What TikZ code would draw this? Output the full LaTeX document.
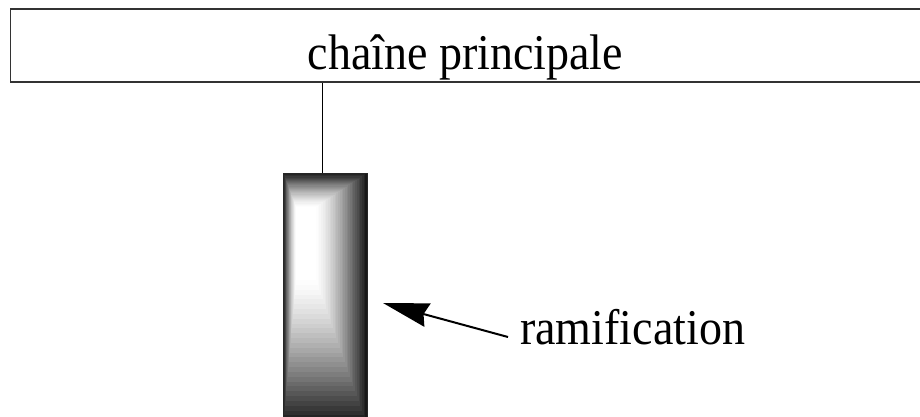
\documentclass[tikz,border=0pt]{standalone}
\usepackage{fontspec}
\setmainfont[FakeStretch=0.92]{Liberation Serif}
\usetikzlibrary{arrows.meta}
\tikzset{
  mainbox/.style={draw=black!80, line width=1.6pt, minimum width=910pt, minimum height=73pt, inner sep=0pt, text height=46.6pt, text depth=0pt, font=\fontsize{50}{60}\selectfont},
  barbox/.style={draw=black!85, line width=0.8pt, minimum width=83.5pt, minimum height=252pt, inner sep=0pt},
  lbl/.style={inner sep=0pt, font=\fontsize{50}{60}\selectfont},
  conn/.style={line width=1.2pt, black},
  pointer/.style={line width=2pt, -{Stealth[length=46pt,width=24pt,inset=4pt]}}
}
\begin{document}
\begin{tikzpicture}[x=1pt,y=-1pt]
\useasboundingbox (0,0) rectangle (920,416);
\begin{scope}
\clip (0,0) rectangle (920,416);
\foreach \i in {0,...,30}{
  \pgfmathsetmacro\t{\i/30}
  \pgfmathsetmacro\xa{283.5+\t*(296-283.5)}
  \pgfmathsetmacro\xb{367-\t*(367-316)}
  \pgfmathsetmacro\ya{173+\t*(207-173)}
  \pgfmathsetmacro\yb{425-\t*(425-280)}
  \pgfmathsetmacro\g{90*(1-\t)^1.4}
  \fill[black!\g] (\xa,\ya) rectangle (\xb,\yb);
}
\node[barbox] (bar) at (325.25,299) {};
\node[mainbox] (main) at (465.35,45.7) {chaîne principale};
\end{scope}
\draw[conn] ([xshift=-3pt]bar.north) -- ([xshift=-3pt]bar.north |- main.south);
\node[lbl, anchor=base west] (ram) at (520,344) {ramification};
\coordinate (tip) at (383,303);
\coordinate (tail) at (508,337);
\draw[pointer] (tail) -- (tip);
\end{tikzpicture}
\end{document}
